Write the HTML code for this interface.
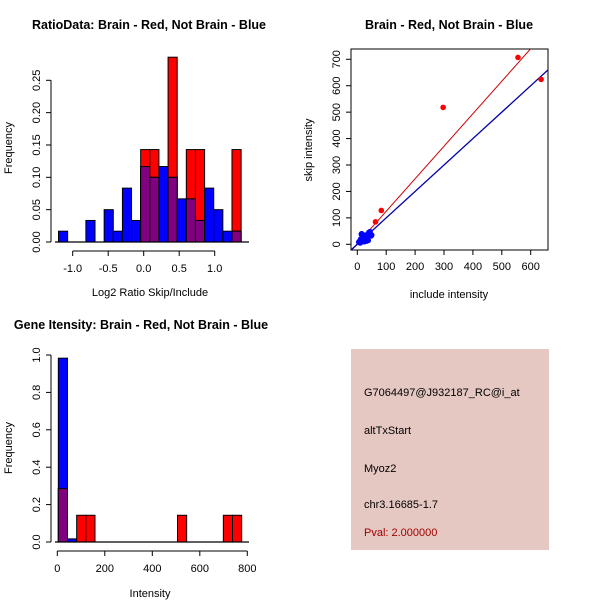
<!DOCTYPE html>
<html><head><meta charset="utf-8"><style>
body{margin:0;background:#fff}
svg{display:block;font-family:"Liberation Sans",sans-serif}
</style></head><body>
<svg id="s" width="600" height="600" viewBox="0 0 600 600">
<rect width="600" height="600" fill="#fff"/>
<text x="149" y="29" font-size="12.5" font-weight="bold" text-anchor="middle">RatioData: Brain - Red, Not Brain - Blue</text>
<text x="449" y="29" font-size="12.5" font-weight="bold" text-anchor="middle">Brain - Red, Not Brain - Blue</text>
<text x="141" y="329" font-size="12.5" font-weight="bold" text-anchor="middle">Gene Itensity: Brain - Red, Not Brain - Blue</text>
<g id="h1"></g>
<g id="sc"></g>
<g id="h2"></g>
<g>
<rect x="351" y="349" width="198" height="201" fill="#e6c8c2"/>
<text x="364" y="396" font-size="11">G7064497@J932187_RC@i_at</text>
<text x="364" y="434" font-size="11">altTxStart</text>
<text x="364" y="472" font-size="11">Myoz2</text>
<text x="364" y="508" font-size="11">chr3.16685-1.7</text>
<text x="364" y="536" font-size="11" fill="#a00000">Pval: 2.000000</text>
</g>
</svg>
<script>
const ratioStart = -1.2;
const ratioBinWidth = 0.1286;
const ratioBlue = [0.0167,0,0,0.0333,0,0.05,0.0167,0.0833,0.0333,0.1167,0.1,0.1167,0.1,0.0667,0.0667,0.0333,0.0833,0.05,0.0167,0.0167];
const ratioRed  = [0,0,0,0,0,0,0,0,0,0.1429,0.1429,0,0.2857,0,0.1429,0.1429,0,0,0,0.1429];
const ratioXTicks = [-1.0,-0.5,0.0,0.5,1.0];
const ratioYTicks = [0,0.05,0.10,0.15,0.20,0.25];
const ratioXLabels = ["-1.0","-0.5","0.0","0.5","1.0"];
const ratioYLabels = ["0.00","0.05","0.10","0.15","0.20","0.25"];

const intStart = 4.3;
const intBinWidth = 38.6;
const intBlue = [0.983,0.0167,0,0,0,0,0,0,0,0,0,0,0,0,0,0,0,0,0,0];
const intRed  = [0.2857,0,0.1429,0.1429,0,0,0,0,0,0,0,0,0,0.1429,0,0,0,0,0.1429,0.1429];
const intXTicks = [0,200,400,600,800];
const intYTicks = [0,0.2,0.4,0.6,0.8,1.0];
const intYLabels = ["0.0","0.2","0.4","0.6","0.8","1.0"];

const redX = [63,83,297,556,636];
const redY = [85,128,518,707,624];
const blueX = [5,8,10,12,15,18,20,22,25,28,30,32,35,38,40,42,45,48,50,14,26,34,10,20,44];
const blueY = [8,12,5,20,40,30,15,25,10,35,20,12,28,15,45,35,40,32,35,38,18,22,14,10,48];
const redFit = [2,1.23];
const blueFit = [0,1.0];
const scXTicks = [0,100,200,300,400,500,600];
const scYTicks = [0,100,200,300,400,500,600,700];

const NS="http://www.w3.org/2000/svg";
function mk(p,tag,a){const e=document.createElementNS(NS,tag);for(const k in a)e.setAttribute(k,a[k]);p.appendChild(e);return e;}

function hist(g,o){
  const {start,bw,blue,red,x,y,base,x0,x1}=o;
  for(let i=0;i<blue.length;i++){
    const a=x(start+i*bw),b=x(start+(i+1)*bw);
    const r=red[i],bl=blue[i],m=Math.min(r,bl);
    if(r>0){const e=mk(g,'rect',{x:a,y:y(r),width:b-a,height:base-y(r),fill:'#ff0000',stroke:'#000','stroke-width':1});
      
      }
    if(bl>0){const e=mk(g,'rect',{x:a,y:y(bl),width:b-a,height:base-y(bl),fill:'#0000ff',stroke:'#000','stroke-width':1});
      
      }
    if(m>0){const e=mk(g,'rect',{x:a,y:y(m),width:b-a,height:base-y(m),fill:'#800080',stroke:'#000','stroke-width':1});
      
      }
  }
  mk(g,'line',{x1:x0,x2:x1,y1:base,y2:base,stroke:'#000','stroke-width':1.3});
}

// Histogram 1
(function(){
  const g=document.getElementById('h1');
  const x=v=>72.7+(v+1)*71, y=v=>242-v*646.8;
  hist(g,{start:ratioStart,bw:ratioBinWidth,blue:ratioBlue,red:ratioRed,x,y,base:242,x0:55,x1:249});
  const ax=mk(g,'g',{});
  
  
  mk(ax,'line',{x1:x(ratioXTicks[0]),x2:x(ratioXTicks[ratioXTicks.length-1]),y1:251,y2:251,stroke:'#000'});
  ratioXTicks.forEach((t,i)=>{mk(ax,'line',{x1:x(t),x2:x(t),y1:251,y2:256,stroke:'#000'});
    const e=mk(ax,'text',{x:x(t),y:272,'font-size':11,'text-anchor':'middle'});e.textContent=ratioXLabels[i];});
  const ay=mk(g,'g',{});
  
  
  mk(ay,'line',{x1:51,x2:51,y1:y(0),y2:y(0.25),stroke:'#000'});
  ratioYTicks.forEach((t,i)=>{mk(ay,'line',{x1:46,x2:51,y1:y(t),y2:y(t),stroke:'#000'});
    const e=mk(ay,'text',{x:0,y:0,'font-size':11,'text-anchor':'middle',transform:`translate(40,${y(t)}) rotate(-90)`});e.textContent=ratioYLabels[i];});
  let e=mk(g,'text',{x:150,y:296,'font-size':11,'text-anchor':'middle'});e.textContent='Log2 Ratio Skip/Include';
  
  
  e=mk(g,'text',{x:0,y:0,'font-size':11,'text-anchor':'middle',transform:'translate(12,148) rotate(-90)'});e.textContent='Frequency';
  
  
})();

// Scatter
(function(){
  const g=document.getElementById('sc');
  const x=v=>357.3+v*0.289, y=v=>244.3-v*0.2643;
  mk(g,'rect',{x:351,y:49,width:197,height:201,fill:'none',stroke:'#000'});
  const clip=mk(g,'clipPath',{id:'cp'});mk(clip,'rect',{x:351,y:49,width:197,height:201});
  const lg=mk(g,'g',{'clip-path':'url(#cp)'});
  let l=mk(lg,'line',{x1:x(-30),y1:y(redFit[0]+redFit[1]*-30),x2:x(700),y2:y(redFit[0]+redFit[1]*700),stroke:'#cc0000','stroke-width':1});
  
  
  l=mk(lg,'line',{x1:x(-30),y1:y(blueFit[0]+blueFit[1]*-30),x2:x(700),y2:y(blueFit[0]+blueFit[1]*700),stroke:'#0000aa','stroke-width':1.3});
  
  
  blueX.forEach((v,i)=>{const c=mk(g,'circle',{cx:x(v),cy:y(blueY[i]),r:2.8,fill:'#0000ff'});
    
    });
  redX.forEach((v,i)=>{const c=mk(g,'circle',{cx:x(v),cy:y(redY[i]),r:2.8,fill:'#ff0000'});
    
    });
  const ax=mk(g,'g',{});
  
  
  scXTicks.forEach(t=>{mk(ax,'line',{x1:x(t),x2:x(t),y1:250,y2:255,stroke:'#000'});
    const e=mk(ax,'text',{x:x(t),y:270,'font-size':11,'text-anchor':'middle'});e.textContent=t;});
  const ay=mk(g,'g',{});
  
  
  scYTicks.forEach(t=>{mk(ay,'line',{x1:346,x2:351,y1:y(t),y2:y(t),stroke:'#000'});
    const e=mk(ay,'text',{x:0,y:0,'font-size':11,'text-anchor':'middle',transform:`translate(340,${y(t)}) rotate(-90)`});e.textContent=t;});
  let e=mk(g,'text',{x:449,y:298,'font-size':11,'text-anchor':'middle'});e.textContent='include intensity';
  
  
  e=mk(g,'text',{x:0,y:0,'font-size':11,'text-anchor':'middle',transform:'translate(312,150) rotate(-90)'});e.textContent='skip intensity';
  
  
})();

// Histogram 2
(function(){
  const g=document.getElementById('h2');
  const x=v=>57.3+v*0.2375, y=v=>542-v*187;
  hist(g,{start:intStart,bw:intBinWidth,blue:intBlue,red:intRed,x,y,base:542,x0:55,x1:249});
  const ax=mk(g,'g',{});
  
  
  mk(ax,'line',{x1:x(0),x2:x(800),y1:551,y2:551,stroke:'#000'});
  intXTicks.forEach(t=>{mk(ax,'line',{x1:x(t),x2:x(t),y1:551,y2:556,stroke:'#000'});
    const e=mk(ax,'text',{x:x(t),y:572,'font-size':11,'text-anchor':'middle'});e.textContent=t;});
  const ay=mk(g,'g',{});
  
  
  mk(ay,'line',{x1:51,x2:51,y1:y(0),y2:y(1),stroke:'#000'});
  intYTicks.forEach((t,i)=>{mk(ay,'line',{x1:46,x2:51,y1:y(t),y2:y(t),stroke:'#000'});
    const e=mk(ay,'text',{x:0,y:0,'font-size':11,'text-anchor':'middle',transform:`translate(40,${y(t)}) rotate(-90)`});e.textContent=intYLabels[i];});
  let e=mk(g,'text',{x:150,y:597,'font-size':11,'text-anchor':'middle'});e.textContent='Intensity';
  
  
  e=mk(g,'text',{x:0,y:0,'font-size':11,'text-anchor':'middle',transform:'translate(12,448) rotate(-90)'});e.textContent='Frequency';
  
  
})();
</script>
</body></html>
